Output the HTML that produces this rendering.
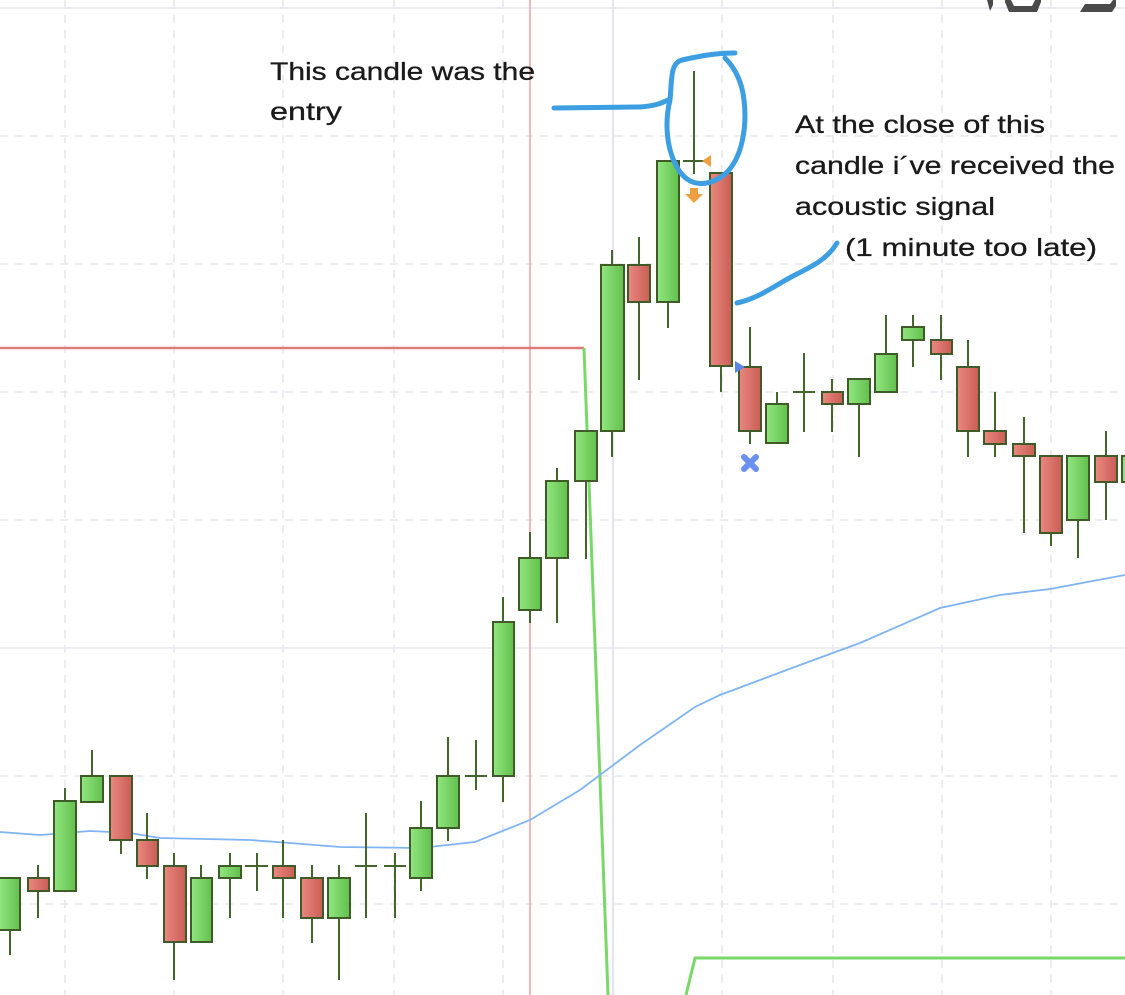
<!DOCTYPE html>
<html><head><meta charset="utf-8"><style>
html,body{margin:0;padding:0;background:#fff;}
svg{display:block;}
text{font-family:"Liberation Sans",sans-serif;font-size:25px;fill:#1a1a1a;stroke:#1a1a1a;stroke-width:0.3;}
</style></head><body>
<svg width="1125" height="995" viewBox="0 0 1125 995" xmlns="http://www.w3.org/2000/svg">
<defs>
<linearGradient id="g" x1="0" x2="1" y1="0" y2="0"><stop offset="0" stop-color="#92e680"/><stop offset="1" stop-color="#62c04c"/></linearGradient>
<linearGradient id="r" x1="0" x2="1" y1="0" y2="0"><stop offset="0" stop-color="#ea8880"/><stop offset="1" stop-color="#c95d56"/></linearGradient>
</defs>
<rect width="1125" height="995" fill="#fff"/>
<line x1="0" y1="8" x2="1125" y2="8" stroke="#e4e4ec" stroke-width="1.5"/>
<g stroke="#e6e6ee" stroke-width="1.5" stroke-dasharray="8,7">
<line x1="65" y1="0" x2="65" y2="995"/><line x1="174" y1="0" x2="174" y2="995"/><line x1="283" y1="0" x2="283" y2="995"/><line x1="394" y1="0" x2="394" y2="995"/><line x1="503" y1="0" x2="503" y2="995"/><line x1="722" y1="0" x2="722" y2="995"/><line x1="833" y1="0" x2="833" y2="995"/><line x1="942" y1="0" x2="942" y2="995"/><line x1="1051" y1="0" x2="1051" y2="995"/>
<line x1="0" y1="136" x2="1125" y2="136"/><line x1="0" y1="264" x2="1125" y2="264"/><line x1="0" y1="392" x2="1125" y2="392"/><line x1="0" y1="520" x2="1125" y2="520"/><line x1="0" y1="776" x2="1125" y2="776"/><line x1="0" y1="904" x2="1125" y2="904"/>
</g>
<line x1="0" y1="648" x2="1125" y2="648" stroke="#e6e6ee" stroke-width="1.5"/>
<line x1="613" y1="0" x2="613" y2="995" stroke="#dcdcec" stroke-width="1.5"/>
<line x1="530" y1="0" x2="530" y2="995" stroke="#f0a0a0" stroke-width="1.5"/>
<polyline points="0,348 584,348" fill="none" stroke="#e07a76" stroke-width="2.5"/>
<polyline points="584,348 608,995" fill="none" stroke="#7ad86a" stroke-width="3"/>
<polyline points="686,995 695,958 1125,958" fill="none" stroke="#7ad86a" stroke-width="3"/>
<polyline points="0,832 40,835 90,831 130,833 160,838 250,840 290,843 340,847 420,848 475,842 530,820 580,790 640,745 695,707 720,695 800,665 860,643 940,608 1000,595 1050,589 1125,575" fill="none" stroke="#7fb4f4" stroke-width="1.8"/>
<g stroke="#44652c" stroke-width="2">
<line x1="10" y1="878" x2="10" y2="955"/><line x1="38" y1="865" x2="38" y2="918"/><line x1="65" y1="788" x2="65" y2="891"/><line x1="92" y1="750" x2="92" y2="802"/><line x1="121" y1="776" x2="121" y2="854"/><line x1="147" y1="813" x2="147" y2="879"/><line x1="174" y1="853" x2="174" y2="980"/><line x1="201" y1="865" x2="201" y2="942"/><line x1="230" y1="853" x2="230" y2="918"/><line x1="257" y1="853" x2="257" y2="891"/><line x1="245" y1="866" x2="268" y2="866"/><line x1="283" y1="840" x2="283" y2="918"/><line x1="312" y1="865" x2="312" y2="943"/><line x1="339" y1="865" x2="339" y2="980"/><line x1="366" y1="813" x2="366" y2="918"/><line x1="355" y1="866" x2="377" y2="866"/><line x1="395" y1="853" x2="395" y2="918"/><line x1="384" y1="866" x2="406" y2="866"/><line x1="421" y1="801" x2="421" y2="891"/><line x1="448" y1="737" x2="448" y2="841"/><line x1="476" y1="740" x2="476" y2="790"/><line x1="465" y1="776" x2="487" y2="776"/><line x1="503" y1="597" x2="503" y2="802"/><line x1="530" y1="532" x2="530" y2="623"/><line x1="557" y1="468" x2="557" y2="623"/><line x1="586" y1="431" x2="586" y2="559"/><line x1="612" y1="250" x2="612" y2="457"/><line x1="639" y1="237" x2="639" y2="380"/><line x1="668" y1="160" x2="668" y2="328"/><line x1="694" y1="71" x2="694" y2="174"/><line x1="683" y1="161" x2="705" y2="161"/><line x1="721" y1="173" x2="721" y2="392"/><line x1="750" y1="327" x2="750" y2="444"/><line x1="777" y1="392" x2="777" y2="443"/><line x1="804" y1="353" x2="804" y2="432"/><line x1="793" y1="392" x2="815" y2="392"/><line x1="832" y1="379" x2="832" y2="432"/><line x1="859" y1="379" x2="859" y2="457"/><line x1="886" y1="315" x2="886" y2="392"/><line x1="913" y1="315" x2="913" y2="367"/><line x1="941" y1="315" x2="941" y2="380"/><line x1="968" y1="340" x2="968" y2="457"/><line x1="995" y1="392" x2="995" y2="457"/><line x1="1024" y1="417" x2="1024" y2="533"/><line x1="1051" y1="456" x2="1051" y2="546"/><line x1="1078" y1="456" x2="1078" y2="558"/><line x1="1106" y1="431" x2="1106" y2="520"/>
</g>
<g stroke="#3f5c28" stroke-width="2">
<rect x="-1" y="878" width="21" height="52" fill="url(#g)"/>
<rect x="28" y="878" width="21" height="13" fill="url(#r)"/>
<rect x="54" y="801" width="22" height="90" fill="url(#g)"/>
<rect x="81" y="776" width="22" height="26" fill="url(#g)"/>
<rect x="110" y="776" width="22" height="64" fill="url(#r)"/>
<rect x="137" y="840" width="21" height="26" fill="url(#r)"/>
<rect x="164" y="866" width="22" height="76" fill="url(#r)"/>
<rect x="191" y="878" width="21" height="64" fill="url(#g)"/>
<rect x="219" y="866" width="22" height="12" fill="url(#g)"/>
<rect x="273" y="866" width="22" height="12" fill="url(#r)"/>
<rect x="301" y="878" width="22" height="40" fill="url(#r)"/>
<rect x="328" y="878" width="22" height="40" fill="url(#g)"/>
<rect x="410" y="828" width="22" height="50" fill="url(#g)"/>
<rect x="437" y="776" width="22" height="52" fill="url(#g)"/>
<rect x="493" y="622" width="21" height="154" fill="url(#g)"/>
<rect x="519" y="558" width="22" height="52" fill="url(#g)"/>
<rect x="546" y="481" width="22" height="77" fill="url(#g)"/>
<rect x="575" y="431" width="22" height="50" fill="url(#g)"/>
<rect x="601" y="265" width="23" height="166" fill="url(#g)"/>
<rect x="628" y="265" width="22" height="37" fill="url(#r)"/>
<rect x="657" y="161" width="22" height="141" fill="url(#g)"/>
<rect x="710" y="173" width="22" height="193" fill="url(#r)"/>
<rect x="739" y="367" width="22" height="64" fill="url(#r)"/>
<rect x="766" y="404" width="22" height="39" fill="url(#g)"/>
<rect x="822" y="392" width="21" height="12" fill="url(#r)"/>
<rect x="848" y="379" width="22" height="25" fill="url(#g)"/>
<rect x="875" y="354" width="22" height="38" fill="url(#g)"/>
<rect x="902" y="327" width="22" height="13" fill="url(#g)"/>
<rect x="931" y="340" width="21" height="14" fill="url(#r)"/>
<rect x="957" y="367" width="22" height="64" fill="url(#r)"/>
<rect x="984" y="431" width="22" height="13" fill="url(#r)"/>
<rect x="1013" y="444" width="22" height="12" fill="url(#r)"/>
<rect x="1040" y="456" width="22" height="77" fill="url(#r)"/>
<rect x="1067" y="456" width="22" height="64" fill="url(#g)"/>
<rect x="1095" y="456" width="22" height="26" fill="url(#r)"/>
<rect x="1122" y="456" width="22" height="26" fill="url(#g)"/>
</g>
<polygon points="702,161 711,155 711,167" fill="#eea040"/>
<path d="M690,188 h8 v6 h5 l-9,9 l-9,-9 h5 z" fill="#eea040"/>
<polygon points="735,361 745,367 735,373" fill="#5a86e6"/>
<g stroke="#6a90f0" stroke-width="6" stroke-linecap="round"><line x1="744" y1="457" x2="756" y2="469"/><line x1="756" y1="457" x2="744" y2="469"/></g>
<g fill="none" stroke="#3d9ee2" stroke-width="5" stroke-linecap="round" stroke-linejoin="round">
<path d="M554,108 L640,107 C655,106 662,103 668,100"/>
<path d="M735,53 C715,53 700,56 682,60 C670,63 672,80 670,100 C665,120 665,150 680,172 C692,188 710,186 725,174 C743,158 747,125 744,100 C742,82 735,68 725,58"/>
<path d="M737,303 C760,298 775,285 795,275 C815,265 828,258 837,243"/>
</g>
<g fill="#4a4a4a">
<path d="M987,0 h6 v5 l-3,6 z"/>
<path d="M1005,0 h6 l3,6 h18 l3,-6 h6 v2 l-4,10 h-28 l-4,-10 z"/>
<path d="M1080,12 l5,-8 h25 l3,-4 h3 v6 l-4,6 z"/>
</g>
<text x="270" y="80" textLength="265" lengthAdjust="spacingAndGlyphs">This candle was the</text>
<text x="270" y="120" textLength="72" lengthAdjust="spacingAndGlyphs">entry</text>
<text x="795" y="133" textLength="250" lengthAdjust="spacingAndGlyphs">At the close of this</text>
<text x="795" y="174" textLength="320" lengthAdjust="spacingAndGlyphs">candle i´ve received the</text>
<text x="795" y="215" textLength="200" lengthAdjust="spacingAndGlyphs">acoustic signal</text>
<text x="845" y="256" textLength="252" lengthAdjust="spacingAndGlyphs">(1 minute too late)</text>
</svg>
</body></html>
